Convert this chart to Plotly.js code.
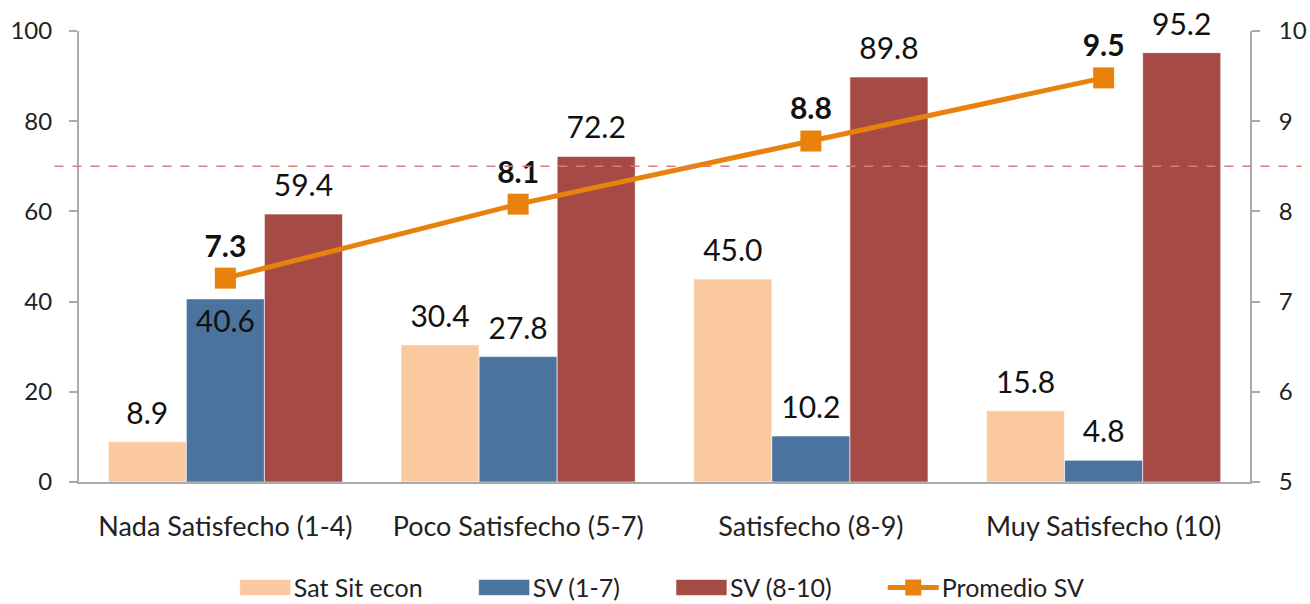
<!DOCTYPE html>
<html>
<head>
<meta charset="utf-8">
<script src="https://cdn.plot.ly/plotly-3.0.1.min.js"></script>
<style>
  html, body { margin: 0; padding: 0; background: #fff; }
  #chart { width: 1310px; height: 604px; }
</style>
</head>
<body>
<div id="chart"></div>
<script>
const categories = ['Nada Satisfecho (1-4)', 'Poco Satisfecho (5-7)', 'Satisfecho (8-9)', 'Muy Satisfecho (10)'];
const satSitEcon = [8.9, 30.4, 45.0, 15.8];
const sv1to7 = [40.6, 27.8, 10.2, 4.8];
const sv8to10 = [59.4, 72.2, 89.8, 95.2];
const promedioSV = [7.26, 8.08, 8.78, 9.48];
const referenceLine = 70;

const fontFamily = 'Lato, "Open Sans", sans-serif';

// small base font so the blank spacer line is short; the number itself is 30px
const outsideLabel = v => "<span style='font-size:30px'>" + v.toFixed(1) + "</span><br> ";
const insideLabel = v => " <br><span style='font-size:30px'>" + v.toFixed(1) + "</span>";

const barTrace = (name, values, color, positions) => {
    const pos = positions || values.map(() => 'outside');
    return {
        type: 'bar',
        name: name,
        x: categories,
        y: values,
        text: values.map((v, i) => pos[i] === 'inside' ? insideLabel(v) : outsideLabel(v)),
        textposition: pos,
        insidetextanchor: 'end',
        constraintext: 'none',
        textfont: { family: fontFamily, size: 10, color: '#111' },
        cliponaxis: false,
        marker: { color: color, line: { color: 'rgba(255,255,255,0.6)', width: 1 } },
        hoverinfo: 'x+y',
    };
};

const traces = [
    barTrace('Sat Sit econ', satSitEcon, '#FAC9A0'),
    barTrace('SV (1-7)', sv1to7, '#4A739E', ['inside', 'outside', 'outside', 'outside']),
    barTrace('SV (8-10)', sv8to10, '#A64A45'),
    {
        type: 'scatter',
        mode: 'lines+markers+text',
        name: 'Promedio SV',
        x: categories,
        y: promedioSV,
        yaxis: 'y2',
        text: promedioSV.map(v => '<b>' + v.toFixed(1) + '</b>'),
        textposition: 'top center',
        textfont: { family: fontFamily, size: 30, color: '#111' },
        line: { color: '#E8820C', width: 5 },
        marker: { symbol: 'square', size: 21, color: '#E8820C' },
        cliponaxis: false,
    },
];

const axisLine = {
    showline: true,
    linecolor: '#AAAAAA',
    linewidth: 2,
    showgrid: false,
    zeroline: false,
};

const layout = {
    width: 1310,
    height: 604,
    margin: { l: 79, r: 60, t: 31, b: 122 },
    paper_bgcolor: '#fff',
    plot_bgcolor: '#fff',
    font: { family: fontFamily, size: 24, color: '#222' },
    barmode: 'group',
    bargap: 0.2,
    bargroupgap: 0,
    showlegend: true,
    legend: {
        orientation: 'h',
        xref: 'container', yref: 'container',
        x: 0.488, xanchor: 'center',
        y: 0.027, yanchor: 'middle',
        font: { family: fontFamily, size: 25, color: '#222' },
        itemwidth: 95,
        traceorder: 'normal',
    },
    xaxis: Object.assign({}, axisLine, {
        type: 'category',
        ticks: '',
        tickfont: { family: fontFamily, size: 27, color: '#222' },
        ticklabelstandoff: 20,
    }),
    yaxis: Object.assign({}, axisLine, {
        range: [0, 100],
        tickvals: [0, 20, 40, 60, 80, 100],
        ticks: 'outside',
        ticklen: 8,
        tickwidth: 2,
        tickcolor: '#AAAAAA',
        tickfont: { family: fontFamily, size: 24, color: '#222' },
        ticklabelstandoff: 12,
    }),
    yaxis2: Object.assign({}, axisLine, {
        range: [5, 10],
        tickvals: [5, 6, 7, 8, 9, 10],
        overlaying: 'y',
        side: 'right',
        ticks: 'outside',
        ticklen: 8,
        tickwidth: 2,
        tickcolor: '#AAAAAA',
        tickfont: { family: fontFamily, size: 24, color: '#222' },
        ticklabelstandoff: 14,
    }),
    shapes: [{
        type: 'line',
        xref: 'paper', yref: 'y',
        x0: -0.021, x1: 1.044,
        y0: referenceLine, y1: referenceLine,
        line: { color: '#E07B7B', width: 1.5, dash: 'dash' },
        layer: 'above',
    }],
};

// widen the legend swatches so they sit just left of each label, like the original
const widenLegendSwatches = gd => {
    gd.querySelectorAll('.legend .traces').forEach(item => {
        const label = item.querySelector('text.legendtext');
        if (!label) return;
        const tx = parseFloat(label.getAttribute('x')) || 0;
        const left = tx - 54;
        const right = tx - 3;
        item.querySelectorAll('path.legendbar, path.legendundefined').forEach(p => {
            p.removeAttribute('transform');
            p.setAttribute('d', `M${left},-8H${right}V8H${left}Z`);
        });
        item.querySelectorAll('.legendlines path').forEach(p => {
            p.removeAttribute('transform');
            p.setAttribute('d', `M${left},0H${right}`);
        });
        item.querySelectorAll('.legendpoints path.scatterpts').forEach(p => {
            p.setAttribute('transform', `translate(${(left + right) / 2},0)`);
        });
    });
};

Plotly.newPlot('chart', traces, layout, { displayModeBar: false, responsive: false })
    .then(widenLegendSwatches);
</script>
</body>
</html>
